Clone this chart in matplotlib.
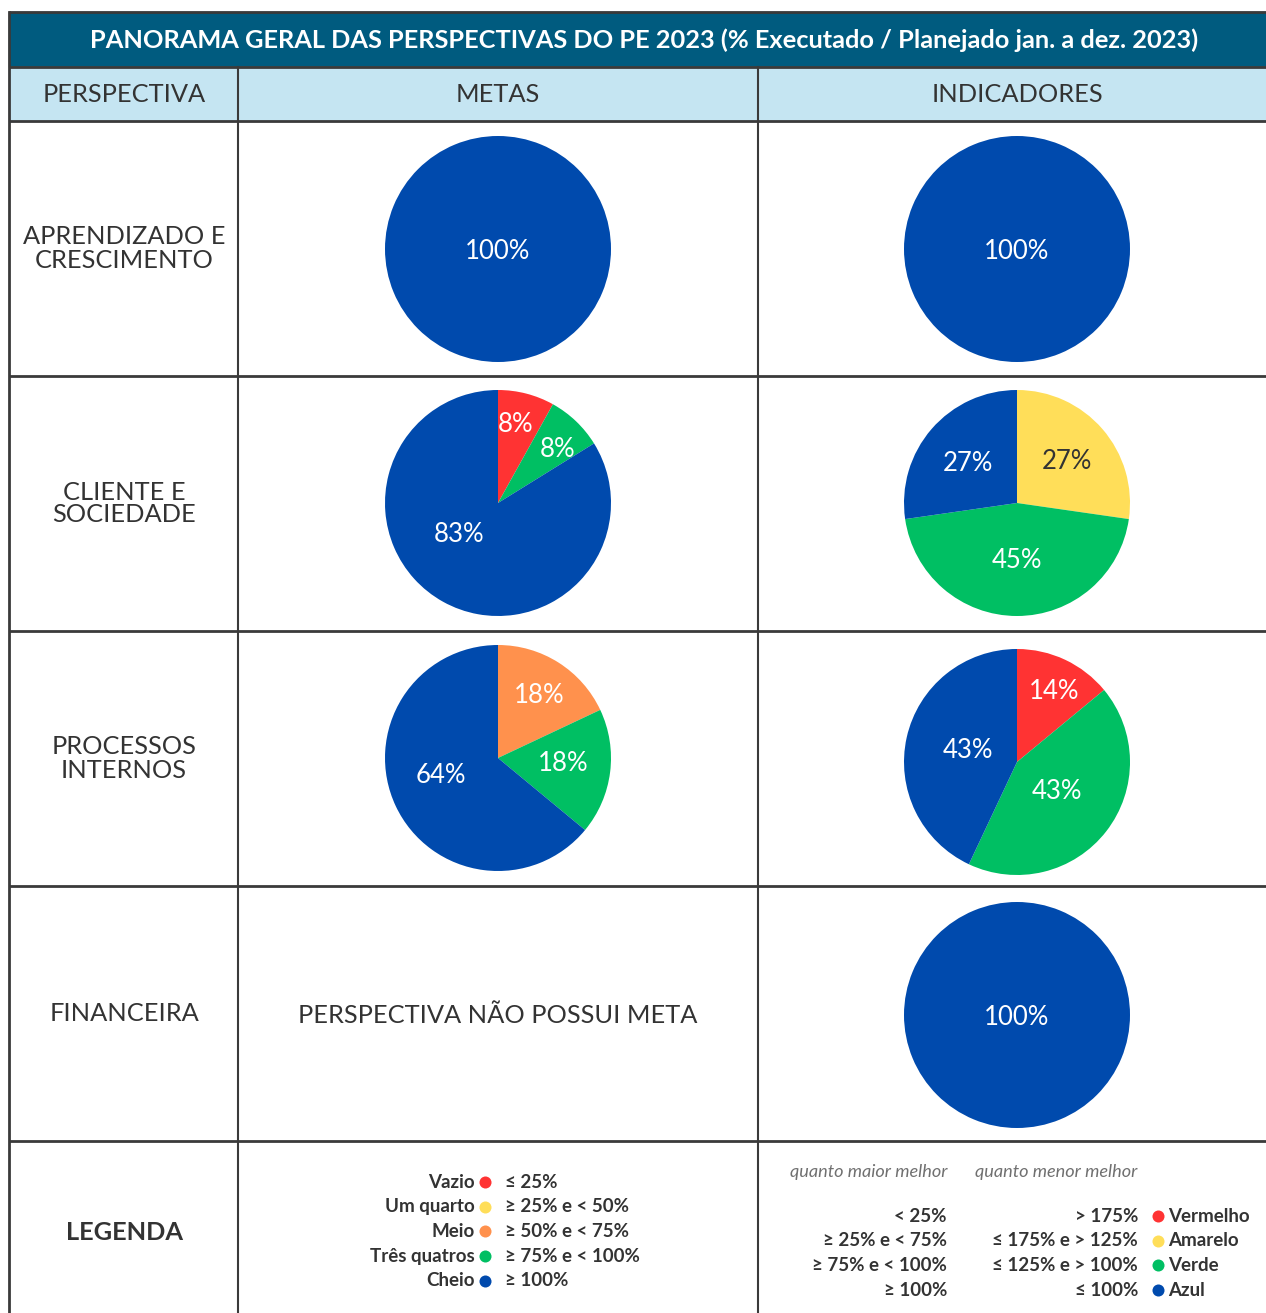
import matplotlib
matplotlib.use("Agg")
import matplotlib.pyplot as plt
from matplotlib.patches import Rectangle
import numpy as np

plt.rcParams['font.family'] = ['Lato', 'DejaVu Sans']

# ---------------- data ----------------
title = "PANORAMA GERAL DAS PERSPECTIVAS DO PE 2023 (% Executado / Planejado jan. a dez. 2023)"
headers = ["PERSPECTIVA", "METAS", "INDICADORES"]
perspectivas = ["APRENDIZADO E\nCRESCIMENTO", "CLIENTE E\nSOCIEDADE", "PROCESSOS\nINTERNOS", "FINANCEIRA"]

metas_cats = [["Cheio"], ["Vazio", "Três quatros", "Cheio"], ["Meio", "Três quatros", "Cheio"], []]
metas_values = [[100], [8, 8, 83], [18, 18, 64], []]
sem_meta_text = "PERSPECTIVA NÃO POSSUI META"

ind_cats = [["Azul"], ["Amarelo", "Verde", "Azul"], ["Vermelho", "Verde", "Azul"], ["Azul"]]
ind_values = [[100], [27, 45, 27], [14, 43, 43], [100]]

legend_metas_names = ["Vazio", "Um quarto", "Meio", "Três quatros", "Cheio"]
legend_metas_ranges = ["≤ 25%", "≥ 25% e < 50%", "≥ 50% e < 75%", "≥ 75% e < 100%", "≥ 100%"]

legend_ind_maior = ["< 25%", "≥ 25% e < 75%", "≥ 75% e < 100%", "≥ 100%"]
legend_ind_menor = ["> 175%", "≤ 175% e > 125%", "≤ 125% e > 100%", "≤ 100%"]
legend_ind_names = ["Vermelho", "Amarelo", "Verde", "Azul"]

# ---------------- style ----------------
RED, YELLOW, ORANGE, GREEN, BLUE = "#FF3333", "#FFDE59", "#FF914D", "#00BF63", "#004AAD"
cat_colors = {"Vazio": RED, "Um quarto": YELLOW, "Meio": ORANGE, "Três quatros": GREEN, "Cheio": BLUE,
              "Vermelho": RED, "Amarelo": YELLOW, "Verde": GREEN, "Azul": BLUE}
TEXT = "#333333"
FS = 18.3
W, H = 1266, 1313
fig = plt.figure(figsize=(W / 100, H / 100), dpi=100)
bg = fig.add_axes([0, 0, 1, 1])
bg.set_xlim(0, W)
bg.set_ylim(H, 0)
bg.axis("off")

xs = [9, 238, 758, 1266]
col_centers = [124, 498, 1017]
ys_title = (12, 67)
ys_head = (67, 121)
row_edges = [121, 376, 631, 886, 1141, 1313]
LINE = "#3a3a3a"

bg.add_patch(Rectangle((xs[0], ys_title[0]), W - xs[0], ys_title[1] - ys_title[0], color="#005B7F", zorder=1))
bg.add_patch(Rectangle((xs[0], ys_head[0]), W - xs[0], ys_head[1] - ys_head[0], color="#C5E5F2", zorder=1))
bg.text(644.5, (ys_title[0] + ys_title[1]) / 2 + 1, title, color="white", fontsize=18.3,
        fontweight="bold", ha="center", va="center", zorder=3)
for i, h in enumerate(headers):
    bg.text(col_centers[i], (ys_head[0] + ys_head[1]) / 2 + 1, h, color=TEXT, fontsize=FS,
            ha="center", va="center", zorder=3)

# grid lines
for y in [ys_title[0], ys_title[1], ys_head[1]] + row_edges[1:-1]:
    bg.plot([xs[0], W], [y, y], color=LINE, lw=2, zorder=4, solid_capstyle="butt")
bg.plot([xs[0], xs[0]], [ys_title[0], H], color=LINE, lw=2, zorder=4)
for x in xs[1:3]:
    bg.plot([x, x], [ys_head[0], H], color=LINE, lw=1.5, zorder=4)

# row labels
for i, p in enumerate(perspectivas):
    cy = (row_edges[i] + row_edges[i + 1]) / 2
    bg.text(col_centers[0], cy, p, color=TEXT, fontsize=FS, ha="center", va="center",
            linespacing=1.0, zorder=3)
bg.text(col_centers[0], (row_edges[4] + row_edges[5]) / 2 + 5, "LEGENDA", color=TEXT, fontsize=FS,
        fontweight="bold", ha="center", va="center", zorder=3)

R = 113
# label placement per slice: (distance from centre as fraction of radius, angular shift in degrees)
label_place = {
    (1, "m"): [(0.73, 2), (0.72, -3), (0.43, -24)],
    (1, "i"): [(0.59, 0), (0.49, 0), (0.57, 0)],
    (2, "m"): [(0.68, 0), (0.58, 4), (0.52, -10)],
    (2, "i"): [(0.72, -2), (0.43, 4), (0.45, -3)],
}
pie_y = {(0, "m"): 249, (0, "i"): 249, (1, "m"): 503, (1, "i"): 503, (2, "m"): 758, (2, "i"): 762, (3, "i"): 1015}
col_x = {"m": 498, "i": 1017}


def draw_pie(row, col, values, cats):
    cx, cy = col_x[col], pie_y[(row, col)]
    ax = fig.add_axes([(cx - R) / W, 1 - (cy + R) / H, 2 * R / W, 2 * R / H])
    ax.axis("off")
    wedges, _ = ax.pie(values, colors=[cat_colors[c] for c in cats], startangle=90, counterclock=False,
                       radius=1, wedgeprops=dict(linewidth=0))
    ax.set_xlim(-1, 1)
    ax.set_ylim(-1, 1)
    places = label_place.get((row, col), [(0.0, 0)] * len(values))
    for w, v, c, (d, shift) in zip(wedges, values, cats, places):
        mid = np.deg2rad((w.theta1 + w.theta2) / 2 + shift)
        tc = TEXT if c in ("Um quarto", "Amarelo") else "white"
        ax.text(d * np.cos(mid), d * np.sin(mid) - 0.02, f"{v}%", color=tc, fontsize=18.5,
                ha="center", va="center")


for r in range(4):
    if metas_values[r]:
        draw_pie(r, "m", metas_values[r], metas_cats[r])
    else:
        bg.text(col_x["m"], (row_edges[r] + row_edges[r + 1]) / 2 + 2, sem_meta_text, color=TEXT, fontsize=FS,
                ha="center", va="center", zorder=3)
    draw_pie(r, "i", ind_values[r], ind_cats[r])

# legend metas
LFS = 13.5
ly0, dly = 1182, 24.7
for k, (n, rg) in enumerate(zip(legend_metas_names, legend_metas_ranges)):
    y = ly0 + k * dly
    bg.text(475, y, n, color=TEXT, fontsize=LFS, fontweight="bold", ha="right", va="center")
    bg.scatter([485], [y], s=75, color=cat_colors[n], zorder=5, linewidths=0)
    bg.text(505, y, rg, color=TEXT, fontsize=LFS, fontweight="bold", ha="left", va="center")

# legend indicadores
bg.text(947, 1172, "quanto maior melhor", color="#707070", fontsize=13.1, style="italic",
        ha="right", va="center")
bg.text(975, 1172, "quanto menor melhor", color="#707070", fontsize=13.1, style="italic",
        ha="left", va="center")
iy0, diy = 1216, 24.7
for k in range(4):
    y = iy0 + k * diy
    bg.text(947, y, legend_ind_maior[k], color=TEXT, fontsize=LFS, fontweight="bold", ha="right", va="center")
    bg.text(1138, y, legend_ind_menor[k], color=TEXT, fontsize=LFS, fontweight="bold", ha="right", va="center")
    bg.scatter([1158], [y], s=75, color=cat_colors[legend_ind_names[k]], zorder=5, linewidths=0)
    bg.text(1168, y, legend_ind_names[k], color=TEXT, fontsize=LFS, fontweight="bold", ha="left", va="center")

fig.savefig("out.png", dpi=100)
